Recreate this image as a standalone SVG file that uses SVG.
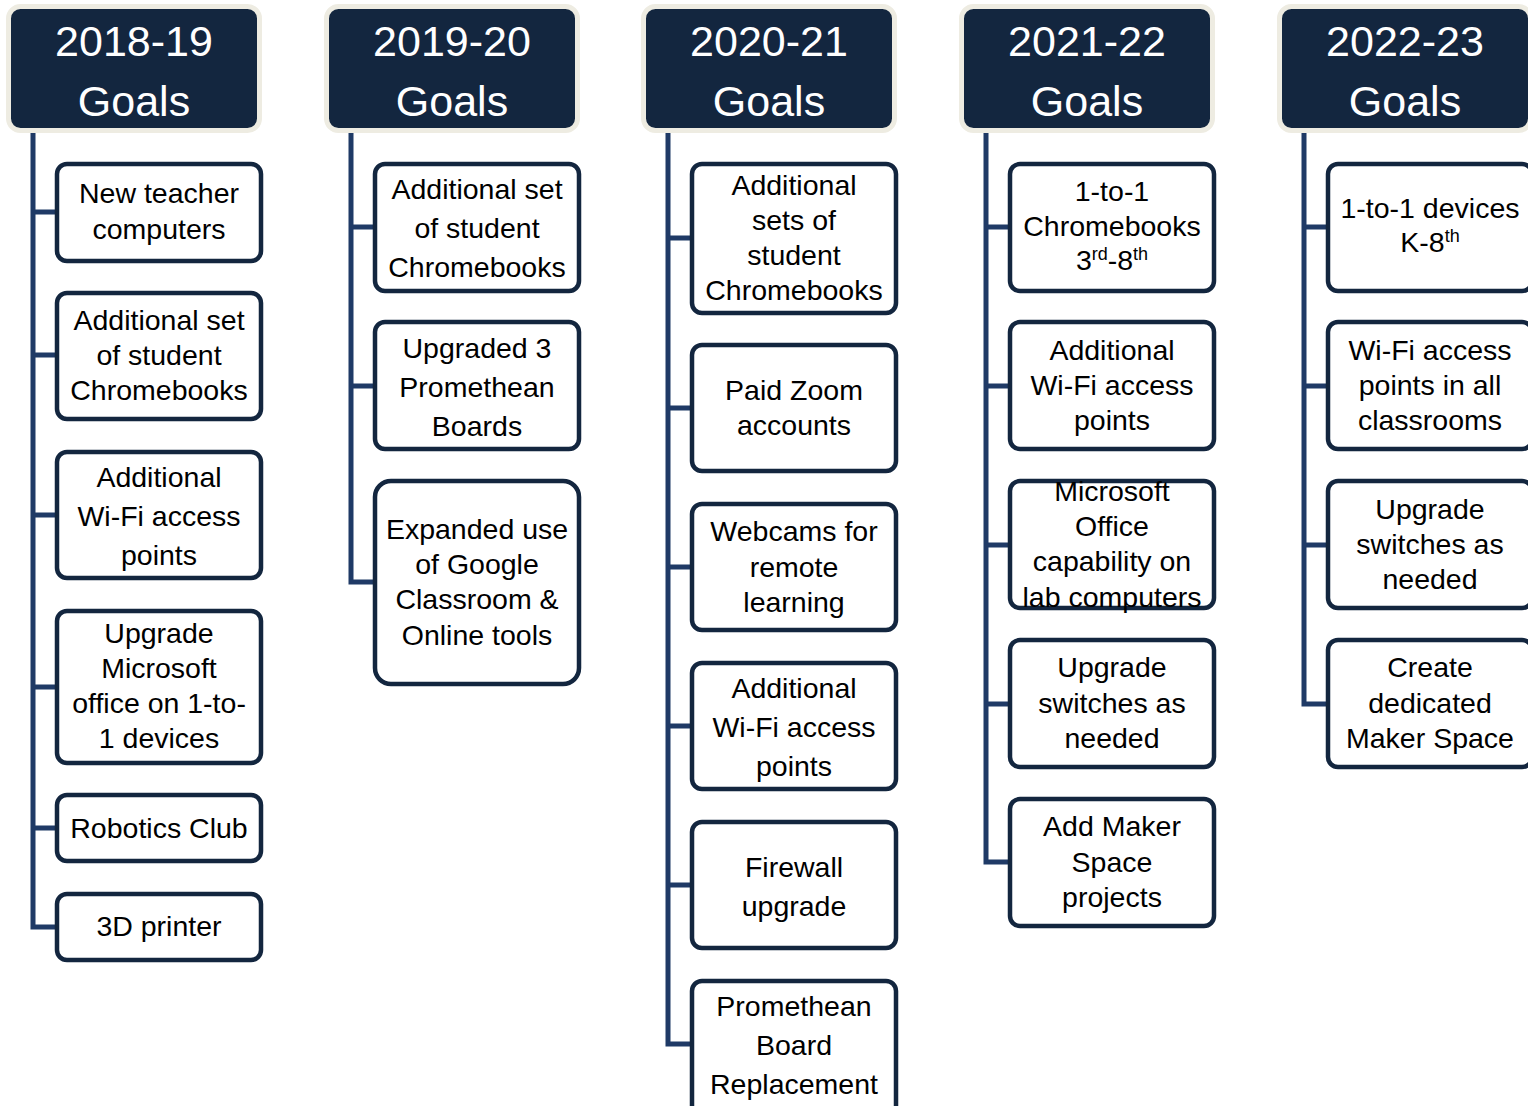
<svg xmlns="http://www.w3.org/2000/svg" width="1528" height="1106" viewBox="0 0 1528 1106">
<style>
.hd{fill:#13263F;stroke:#EEECE2;stroke-width:5}
.ht{font-family:"Liberation Sans",Arial,sans-serif;font-size:43px;fill:#FFFFFF;text-anchor:middle}
.bx{fill:#FFFFFF;stroke:#13263F;stroke-width:4.5}
.t{font-family:"Liberation Sans",Arial,sans-serif;font-size:28.5px;fill:#000000;text-anchor:middle}
.sup{font-size:18px}
.cn{fill:none;stroke:#1F3A66;stroke-width:5;stroke-linejoin:miter}
</style>
<rect width="1528" height="1106" fill="#FFFFFF"/>
<g id="connectors">
<path class="cn" d="M33 130 V927 H57 M33 212 H57 M33 355 H57 M33 515 H57 M33 687 H57 M33 828 H57"/>
<path class="cn" d="M351 130 V582 H375 M351 227 H375 M351 386 H375"/>
<path class="cn" d="M668 130 V1044 H692 M668 238 H692 M668 408 H692 M668 567 H692 M668 726 H692 M668 885 H692"/>
<path class="cn" d="M986 130 V862 H1010 M986 227 H1010 M986 386 H1010 M986 545 H1010 M986 704 H1010"/>
<path class="cn" d="M1304 130 V704 H1328 M1304 227 H1328 M1304 386 H1328 M1304 545 H1328"/>
</g>
<g id="h1"><rect class="hd" x="8.5" y="6.5" width="251" height="124" rx="12"/><text class="ht" x="134" y="56">2018-19</text><text class="ht" x="134" y="116">Goals</text></g>
<g id="h2"><rect class="hd" x="326.5" y="6.5" width="251" height="124" rx="12"/><text class="ht" x="452" y="56">2019-20</text><text class="ht" x="452" y="116">Goals</text></g>
<g id="h3"><rect class="hd" x="643.5" y="6.5" width="251" height="124" rx="12"/><text class="ht" x="769" y="56">2020-21</text><text class="ht" x="769" y="116">Goals</text></g>
<g id="h4"><rect class="hd" x="961.5" y="6.5" width="251" height="124" rx="12"/><text class="ht" x="1087" y="56">2021-22</text><text class="ht" x="1087" y="116">Goals</text></g>
<g id="h5"><rect class="hd" x="1279.5" y="6.5" width="251" height="124" rx="12"/><text class="ht" x="1405" y="56">2022-23</text><text class="ht" x="1405" y="116">Goals</text></g>

<g id="c1n1"><rect class="bx" x="57" y="164" width="204" height="97" rx="10"/><text class="t" x="159" y="203">New teacher</text><text class="t" x="159" y="239">computers</text></g>
<g id="c1n2"><rect class="bx" x="57" y="293" width="204" height="126" rx="10"/><text class="t" x="159" y="330">Additional set</text><text class="t" x="159" y="365">of student</text><text class="t" x="159" y="400">Chromebooks</text></g>
<g id="c1n3"><rect class="bx" x="57" y="452" width="204" height="126" rx="10"/><text class="t" x="159" y="487">Additional</text><text class="t" x="159" y="526">Wi-Fi access</text><text class="t" x="159" y="565">points</text></g>
<g id="c1n4"><rect class="bx" x="57" y="611" width="204" height="152" rx="10"/><text class="t" x="159" y="643">Upgrade</text><text class="t" x="159" y="678">Microsoft</text><text class="t" x="159" y="713">office on 1-to-</text><text class="t" x="159" y="748">1 devices</text></g>
<g id="c1n5"><rect class="bx" x="57" y="795" width="204" height="66" rx="10"/><text class="t" x="159" y="838">Robotics Club</text></g>
<g id="c1n6"><rect class="bx" x="57" y="894" width="204" height="66" rx="10"/><text class="t" x="159" y="936">3D printer</text></g>

<g id="c2n1"><rect class="bx" x="375" y="164" width="204" height="127" rx="10"/><text class="t" x="477" y="199">Additional set</text><text class="t" x="477" y="238">of student</text><text class="t" x="477" y="277">Chromebooks</text></g>
<g id="c2n2"><rect class="bx" x="375" y="322" width="204" height="127" rx="10"/><text class="t" x="477" y="358">Upgraded 3</text><text class="t" x="477" y="397">Promethean</text><text class="t" x="477" y="436">Boards</text></g>
<g id="c2n3"><rect class="bx" x="375" y="481" width="204" height="203" rx="16"/><text class="t" x="477" y="539">Expanded use</text><text class="t" x="477" y="574">of Google</text><text class="t" x="477" y="609">Classroom &amp;</text><text class="t" x="477" y="645">Online tools</text></g>

<g id="c3n1"><rect class="bx" x="692" y="164" width="204" height="149" rx="10"/><text class="t" x="794" y="195">Additional</text><text class="t" x="794" y="230">sets of</text><text class="t" x="794" y="265">student</text><text class="t" x="794" y="300">Chromebooks</text></g>
<g id="c3n2"><rect class="bx" x="692" y="345" width="204" height="126" rx="10"/><text class="t" x="794" y="400">Paid Zoom</text><text class="t" x="794" y="435">accounts</text></g>
<g id="c3n3"><rect class="bx" x="692" y="504" width="204" height="126" rx="10"/><text class="t" x="794" y="541">Webcams for</text><text class="t" x="794" y="577">remote</text><text class="t" x="794" y="612">learning</text></g>
<g id="c3n4"><rect class="bx" x="692" y="663" width="204" height="126" rx="10"/><text class="t" x="794" y="698">Additional</text><text class="t" x="794" y="737">Wi-Fi access</text><text class="t" x="794" y="776">points</text></g>
<g id="c3n5"><rect class="bx" x="692" y="822" width="204" height="126" rx="10"/><text class="t" x="794" y="877">Firewall</text><text class="t" x="794" y="916">upgrade</text></g>
<g id="c3n6"><rect class="bx" x="692" y="981" width="204" height="140" rx="10"/><text class="t" x="794" y="1016">Promethean</text><text class="t" x="794" y="1055">Board</text><text class="t" x="794" y="1094">Replacement</text></g>

<g id="c4n1"><rect class="bx" x="1010" y="164" width="204" height="127" rx="10"/><text class="t" x="1112" y="201">1-to-1</text><text class="t" x="1112" y="236">Chromebooks</text><text class="t" x="1112" y="270">3<tspan class="sup" dy="-10">rd</tspan><tspan dy="10">-8</tspan><tspan class="sup" dy="-10">th</tspan></text></g>
<g id="c4n2"><rect class="bx" x="1010" y="322" width="204" height="127" rx="10"/><text class="t" x="1112" y="360">Additional</text><text class="t" x="1112" y="395">Wi-Fi access</text><text class="t" x="1112" y="430">points</text></g>
<g id="c4n3"><rect class="bx" x="1010" y="481" width="204" height="127" rx="10"/><text class="t" x="1112" y="501">Microsoft</text><text class="t" x="1112" y="536">Office</text><text class="t" x="1112" y="571">capability on</text><text class="t" x="1112" y="607">lab computers</text></g>
<g id="c4n4"><rect class="bx" x="1010" y="640" width="204" height="127" rx="10"/><text class="t" x="1112" y="677">Upgrade</text><text class="t" x="1112" y="713">switches as</text><text class="t" x="1112" y="748">needed</text></g>
<g id="c4n5"><rect class="bx" x="1010" y="799" width="204" height="127" rx="10"/><text class="t" x="1112" y="836">Add Maker</text><text class="t" x="1112" y="872">Space</text><text class="t" x="1112" y="907">projects</text></g>

<g id="c5n1"><rect class="bx" x="1328" y="164" width="204" height="127" rx="10"/><text class="t" x="1430" y="218">1-to-1 devices</text><text class="t" x="1430" y="252">K-8<tspan class="sup" dy="-10">th</tspan></text></g>
<g id="c5n2"><rect class="bx" x="1328" y="322" width="204" height="127" rx="10"/><text class="t" x="1430" y="360">Wi-Fi access</text><text class="t" x="1430" y="395">points in all</text><text class="t" x="1430" y="430">classrooms</text></g>
<g id="c5n3"><rect class="bx" x="1328" y="481" width="204" height="127" rx="10"/><text class="t" x="1430" y="519">Upgrade</text><text class="t" x="1430" y="554">switches as</text><text class="t" x="1430" y="589">needed</text></g>
<g id="c5n4"><rect class="bx" x="1328" y="640" width="204" height="127" rx="10"/><text class="t" x="1430" y="677">Create</text><text class="t" x="1430" y="713">dedicated</text><text class="t" x="1430" y="748">Maker Space</text></g>
</svg>
